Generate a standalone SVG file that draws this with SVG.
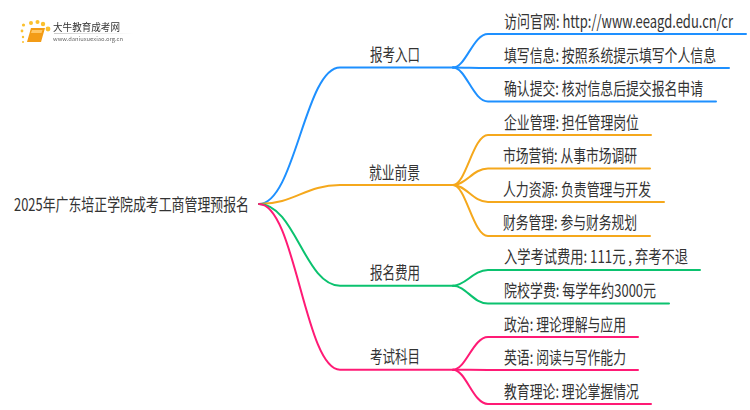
<svg xmlns="http://www.w3.org/2000/svg" width="750" height="410" viewBox="0 0 750 410">
<style>
text{font-family:"Noto Sans CJK SC","Noto Sans",sans-serif;fill:#333;font-size:17.500px}
.c{fill:none;stroke-width:2;stroke-linecap:round}
.b{stroke:#1e90ff}.o{stroke:#f5a81c}.g{stroke:#0bc26f}.p{stroke:#ff1a75}
.d{fill:#fbc02d}
</style>
<defs>
<filter id="soft" x="-5%" y="-5%" width="110%" height="110%"><feGaussianBlur stdDeviation="0.35"/></filter>
<linearGradient id="fade"><stop offset="0" stop-color="#ccc"/><stop offset="1" stop-color="#fff"/></linearGradient>
</defs>
<rect width="750" height="410" fill="#fff"/>
<g id="logo" filter="url(#soft)">
<circle class="d" cx="23" cy="42" r="1"/><circle class="d" cx="23" cy="37" r="1.200"/><circle class="d" cx="22" cy="31" r="1.400"/><circle class="d" cx="23.500" cy="25" r="1.600"/><circle class="d" cx="31" cy="23" r="2"/><circle class="d" cx="37.500" cy="22" r="2"/><circle class="d" cx="43" cy="24" r="2.200"/><circle class="d" cx="48" cy="29" r="2.400"/>
<path d="M31 28H45L41 42H27Z" fill="#f39c12"/><path d="M32 30H42.500L41.500 33H31Z" fill="#ffc766"/>
<rect x="54" y="33" width="80" height="1" fill="url(#fade)"/>
<text x="53" y="31" style="font-size:10px" textLength="67" lengthAdjust="spacingAndGlyphs">大牛教育成考网</text>
<text x="53" y="41" style="font-size:5.500px;fill:#666" textLength="70" lengthAdjust="spacingAndGlyphs">www.daniuxuexiao.org.cn</text>
</g>
<g id="connectors">
<path class="c b" d="M259 204C295 204 305 67.500 340 67.500H453"/>
<path class="c o" d="M259 204C295 204 305 185 340 185H453"/>
<path class="c g" d="M259 204C295 204 305 285.700 340 285.700H453"/>
<path class="c p" d="M259 204C295 204 305 369.700 340 369.700H453"/>
<path class="c b" d="M453 67.500C466 67.500 473 34 488 34H746"/>
<path class="c b" d="M453 67.500C466 67.500 473 68 488 68H729"/>
<path class="c b" d="M453 67.500C466 67.500 473 101.500 488 101.500H716"/>
<path class="c o" d="M453 185C466 185 473 135 488 135H651"/>
<path class="c o" d="M453 185C466 185 473 168.500 488 168.500H650"/>
<path class="c o" d="M453 185C466 185 473 202 488 202H664"/>
<path class="c o" d="M453 185C466 185 473 236 488 236H650"/>
<path class="c g" d="M453 285.700C466 285.700 473 270 488 270H700"/>
<path class="c g" d="M453 285.700C466 285.700 473 303.500 488 303.500H669"/>
<path class="c p" d="M453 369.700C466 369.700 473 337 488 337H638"/>
<path class="c p" d="M453 369.700C466 369.700 473 370 488 370H638"/>
<path class="c p" d="M453 369.700C466 369.700 473 404 488 404H651"/>
</g>
<g id="root"><text transform="translate(14 211) scale(.74 1)" textLength="317.600" lengthAdjust="spacingAndGlyphs">2025年广东培正学院成考工商管理预报名</text></g>
<g id="n1"><text transform="translate(370 61) scale(.74 1)" textLength="67.600" lengthAdjust="spacingAndGlyphs">报考入口</text></g>
<g id="n2"><text transform="translate(369 179) scale(.74 1)" textLength="68.900" lengthAdjust="spacingAndGlyphs">就业前景</text></g>
<g id="n3"><text transform="translate(370 279) scale(.74 1)" textLength="67.600" lengthAdjust="spacingAndGlyphs">报名费用</text></g>
<g id="n4"><text transform="translate(370 363) scale(.74 1)" textLength="67.600" lengthAdjust="spacingAndGlyphs">考试科目</text></g>
<g id="n1a"><text transform="translate(504 28) scale(.74 1)" textLength="309.500" lengthAdjust="spacingAndGlyphs">访问官网: http://www.eeagd.edu.cn/cr</text></g>
<g id="n1b"><text transform="translate(504 62) scale(.74 1)" textLength="286.500" lengthAdjust="spacingAndGlyphs">填写信息: 按照系统提示填写个人信息</text></g>
<g id="n1c"><text transform="translate(504 95) scale(.74 1)" textLength="268.900" lengthAdjust="spacingAndGlyphs">确认提交: 核对信息后提交报名申请</text></g>
<g id="n2a"><text transform="translate(504 129) scale(.74 1)" textLength="182.400" lengthAdjust="spacingAndGlyphs">企业管理: 担任管理岗位</text></g>
<g id="n2b"><text transform="translate(503 162) scale(.74 1)" textLength="181.100" lengthAdjust="spacingAndGlyphs">市场营销: 从事市场调研</text></g>
<g id="n2c"><text transform="translate(503 196) scale(.74 1)" textLength="200" lengthAdjust="spacingAndGlyphs">人力资源: 负责管理与开发</text></g>
<g id="n2d"><text transform="translate(503 229) scale(.74 1)" textLength="181.100" lengthAdjust="spacingAndGlyphs">财务管理: 参与财务规划</text></g>
<g id="n3a"><text transform="translate(504 263) scale(.74 1)" textLength="248.600" lengthAdjust="spacingAndGlyphs">入学考试费用: 111元 , 弃考不退</text></g>
<g id="n3b"><text transform="translate(504 297) scale(.74 1)" textLength="205.400" lengthAdjust="spacingAndGlyphs">院校学费: 每学年约3000元</text></g>
<g id="n4a"><text transform="translate(504 331) scale(.74 1)" textLength="164.900" lengthAdjust="spacingAndGlyphs">政治: 理论理解与应用</text></g>
<g id="n4b"><text transform="translate(504 364) scale(.74 1)" textLength="164.900" lengthAdjust="spacingAndGlyphs">英语: 阅读与写作能力</text></g>
<g id="n4c"><text transform="translate(504 398) scale(.74 1)" textLength="182.400" lengthAdjust="spacingAndGlyphs">教育理论: 理论掌握情况</text></g>
</svg>
